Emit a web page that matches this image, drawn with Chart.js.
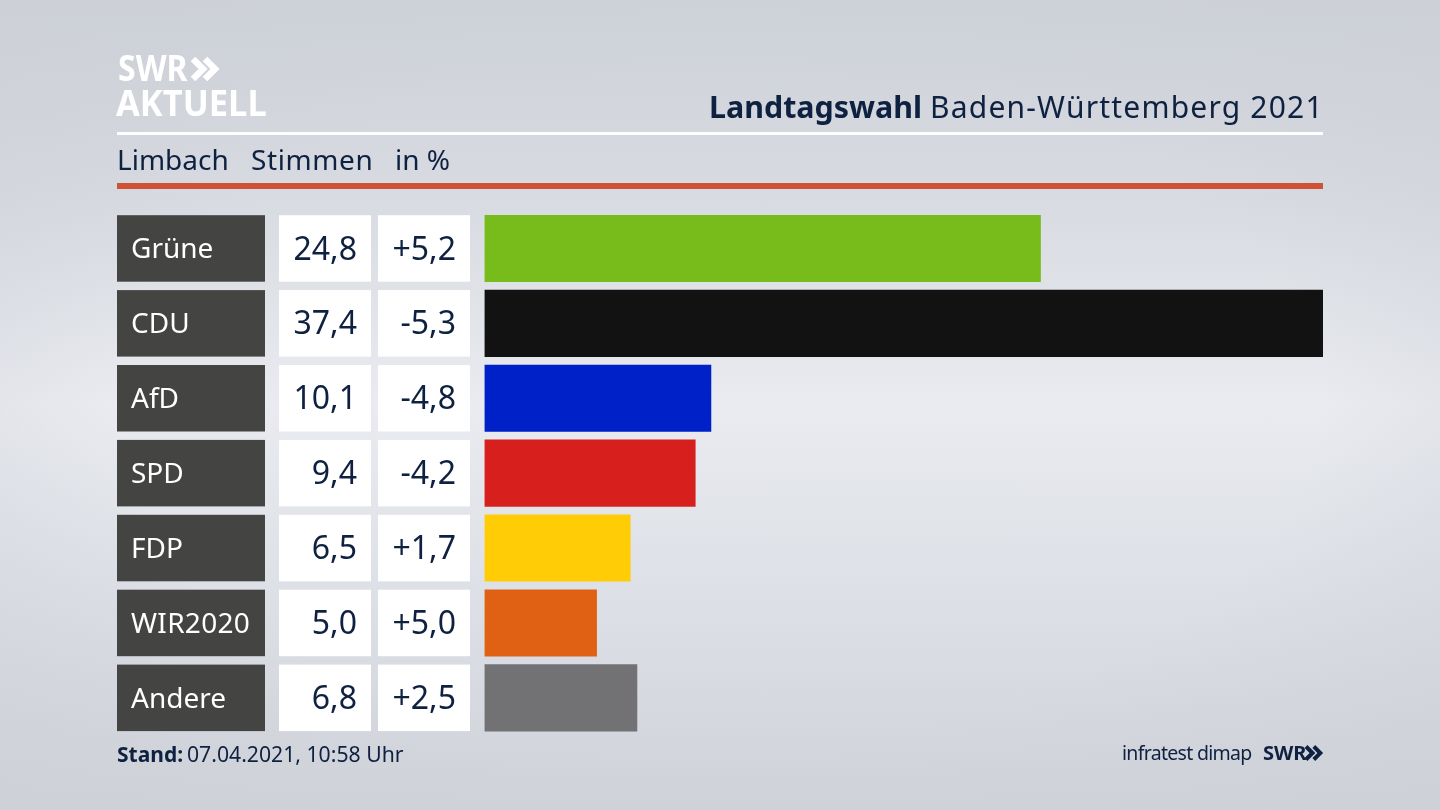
<!DOCTYPE html>
<html lang="de">
<head>
<meta charset="utf-8">
<title>Landtagswahl Baden-Württemberg 2021</title>
<script src="https://cdn.jsdelivr.net/npm/chart.js@4/dist/chart.umd.min.js"></script>
<style>
  html, body { margin: 0; padding: 0; width: 1440px; height: 810px; overflow: hidden; }
  body { background: radial-gradient(ellipse 1000px 560px at 50% 50%, rgba(205,208,215,0) 60%, rgba(205,208,215,0.7) 100%),
                     linear-gradient(180deg, #cdd1d8 0%, #d8dbe1 25%, #e9ebf0 50%, #dcdfe5 75%, #cfd2d9 100%); }
  #wrap { position: relative; width: 1440px; height: 810px; }
</style>
</head>
<body>
<div id="wrap"><canvas id="resultChart" width="1440" height="810"></canvas></div>
<script>
const parties = ['Grüne', 'CDU', 'AfD', 'SPD', 'FDP', 'WIR2020', 'Andere'];
const shares = [24.8, 37.4, 10.1, 9.4, 6.5, 5.0, 6.8];
const changes = ['+5,2', '-5,3', '-4,8', '-4,2', '+1,7', '+5,0', '+2,5'];
const partyColors = ['#78bc1b', '#121212', '#0021c7', '#d71f1d', '#ffcc06', '#e06114', '#727274'];

const NAVY = '#0f2140';
const FONT = '"Noto Sans", sans-serif';

function fmt(v) { return v.toFixed(1).replace('.', ','); }

function chevrons(ctx, x, y, h, w, color) {
    ctx.strokeStyle = color;
    ctx.lineWidth = w;
    ctx.lineJoin = 'miter';
    [0, h * 0.6].forEach(dx => {
        ctx.beginPath();
        ctx.moveTo(x + dx, y - h / 2);
        ctx.lineTo(x + dx + h * 0.5, y);
        ctx.lineTo(x + dx, y + h / 2);
        ctx.stroke();
    });
}

// logo letters are taller than the font's caps
function tallText(ctx, text, x, y, sy) {
    ctx.save();
    ctx.translate(x, y);
    ctx.scale(1, sy);
    ctx.fillText(text, 0, 0);
    ctx.restore();
}

const frame = {
    id: 'frame',
    beforeDatasetsDraw(chart) {
        const ctx = chart.ctx;
        const yScale = chart.scales.y;
        const halfBar = 33.25;
        ctx.save();

        // logo
        ctx.fillStyle = '#ffffff';
        ctx.textBaseline = 'alphabetic';
        ctx.textAlign = 'left';
        ctx.font = 'bold 32px ' + FONT;
        tallText(ctx, 'SWR', 118, 81, 1.14);
        chevrons(ctx, 193, 69, 20, 6.5, '#ffffff');
        ctx.font = 'bold 34.5px ' + FONT;
        tallText(ctx, 'AKTUELL', 116, 116, 1.06);

        // header
        ctx.fillStyle = '#ffffff';
        ctx.fillRect(117, 132, 1206, 3);
        ctx.fillStyle = '#cf5236';
        ctx.fillRect(117, 183, 1206, 6);

        ctx.textAlign = 'left';
        ctx.fillStyle = NAVY;
        ctx.font = '30px ' + FONT;
        ctx.letterSpacing = '1.2px';
        ctx.fillText('Baden-Württemberg 2021', 930, 118);
        ctx.letterSpacing = '0px';
        ctx.font = 'bold 30.4px ' + FONT;
        ctx.fillText('Landtagswahl', 709, 118);

        ctx.font = '28px ' + FONT;
        ctx.fillText('Limbach', 117, 170);
        ctx.letterSpacing = '0.6px';
        ctx.fillText('Stimmen', 251, 170);
        ctx.letterSpacing = '0px';
        ctx.fillText('in %', 395, 170);

        // table cells, one row per category
        parties.forEach((name, i) => {
            const cy = yScale.getPixelForValue(i);
            ctx.fillStyle = '#444442';
            ctx.fillRect(117, cy - halfBar, 148, halfBar * 2);
            ctx.fillStyle = '#ffffff';
            ctx.fillRect(279, cy - halfBar, 92, halfBar * 2);
            ctx.fillRect(378, cy - halfBar, 92, halfBar * 2);

            ctx.textBaseline = 'middle';
            ctx.textAlign = 'left';
            ctx.fillStyle = '#ffffff';
            ctx.font = '28px ' + FONT;
            ctx.letterSpacing = name === 'WIR2020' ? '0.3px' : '0px';
            ctx.fillText(name, 131, cy + 2);
            ctx.letterSpacing = '0px';

            ctx.textAlign = 'right';
            ctx.fillStyle = NAVY;
            ctx.font = '32px ' + FONT;
            ctx.fillText(fmt(shares[i]), 357, cy + 2);
            ctx.fillText(changes[i], 456, cy + 2);
        });

        // footer
        ctx.textBaseline = 'alphabetic';
        ctx.textAlign = 'left';
        ctx.fillStyle = NAVY;
        ctx.font = 'bold 21px ' + FONT;
        ctx.fillText('Stand:', 117, 762);
        ctx.font = '21.2px ' + FONT;
        ctx.fillText('07.04.2021, 10:58 Uhr', 187, 762);

        ctx.font = '19.5px ' + FONT;
        ctx.letterSpacing = '-0.7px';
        ctx.fillText('infratest dimap', 1122, 760);
        ctx.letterSpacing = '0px';
        ctx.font = 'bold 20px ' + FONT;
        ctx.fillText('SWR', 1263, 760);
        chevrons(ctx, 1306, 753, 13, 4, NAVY);
        ctx.restore();
    }
};

new Chart(document.getElementById('resultChart'), {
    type: 'bar',
    data: {
        labels: parties,
        datasets: [{
            data: shares,
            backgroundColor: partyColors,
            borderWidth: 0,
            barThickness: 66.4
        }]
    },
    options: {
        indexAxis: 'y',
        responsive: false,
        animation: false,
        layout: { padding: { left: 484.5, right: 117, top: 211, bottom: 74.7 } },
        plugins: { legend: { display: false }, tooltip: { enabled: false } },
        scales: {
            x: { display: false, min: 0, max: 37.4 },
            y: { display: false }
        }
    },
    plugins: [frame]
});
</script>
</body>
</html>
